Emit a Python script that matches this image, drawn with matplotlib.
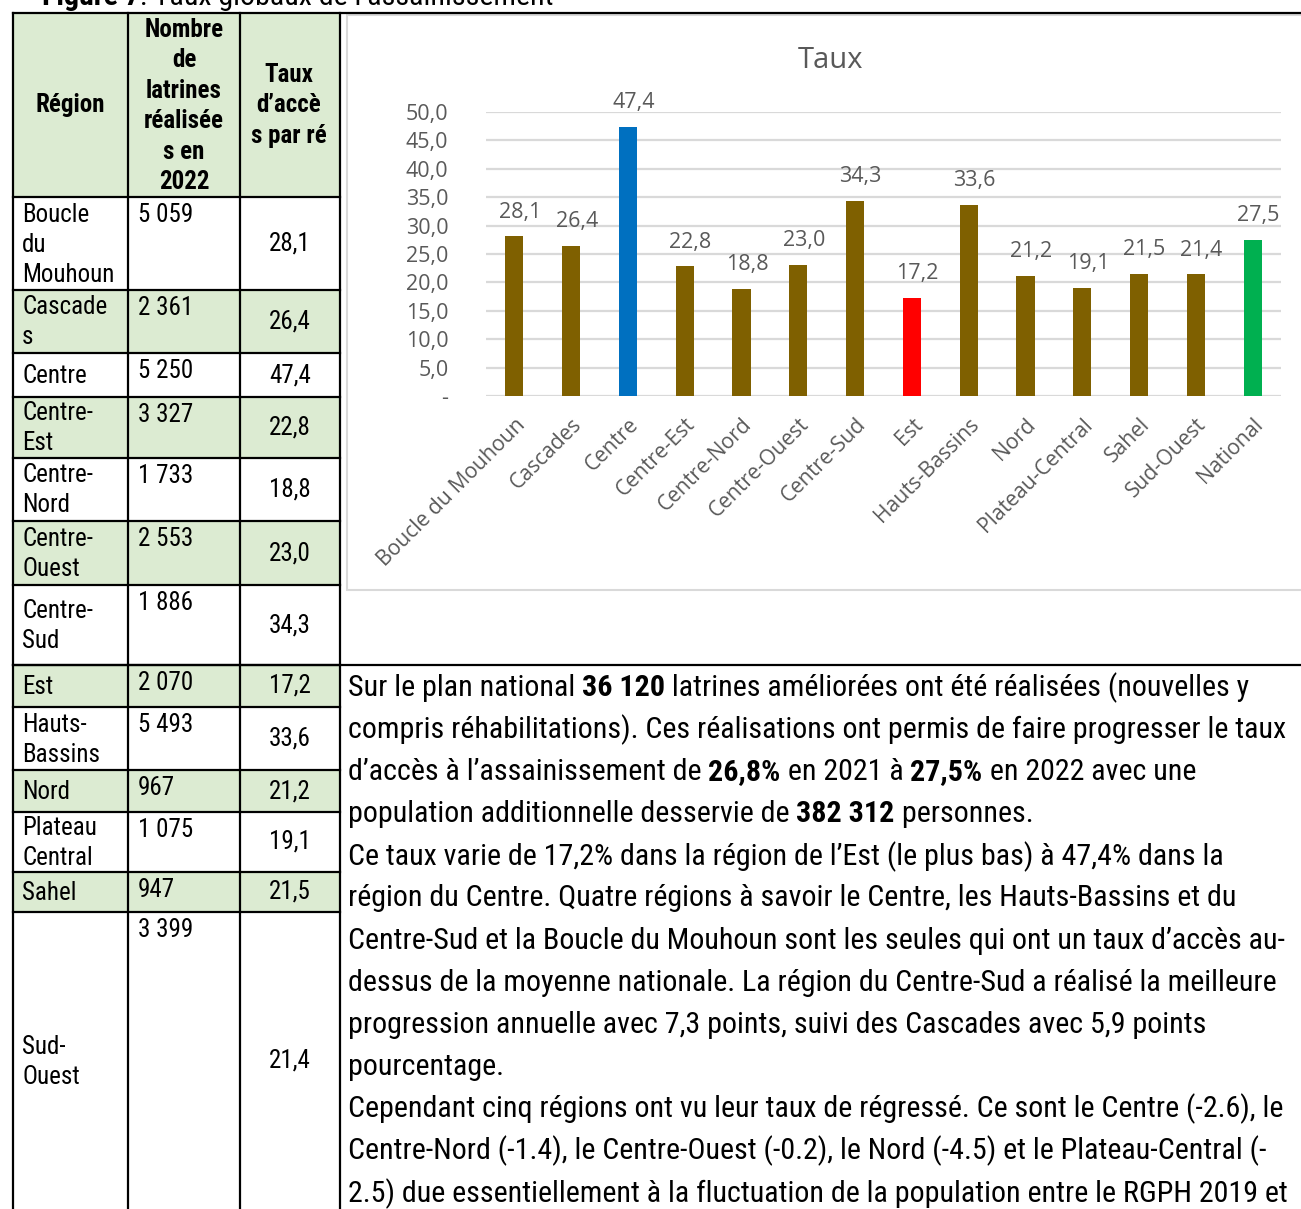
import matplotlib
matplotlib.use("Agg")
import matplotlib.pyplot as plt
from matplotlib import font_manager
from matplotlib.patches import Rectangle

# ---------------------------------------------------------
# Figure 7 : Taux globaux de l'assainissement (table + bar chart + text)
# ---------------------------------------------------------

# Table data
table_regions = ["Boucle\ndu\nMouhoun", "Cascade\ns", "Centre", "Centre-\nEst", "Centre-\nNord",
                 "Centre-\nOuest", "Centre-\nSud", "Est", "Hauts-\nBassins", "Nord",
                 "Plateau\nCentral", "Sahel", "Sud-\nOuest"]
latrines = ["5 059", "2 361", "5 250", "3 327", "1 733", "2 553", "1 886",
            "2 070", "5 493", "967", "1 075", "947", "3 399"]

# Chart data
categories = ["Boucle du Mouhoun", "Cascades", "Centre", "Centre-Est", "Centre-Nord",
              "Centre-Ouest", "Centre-Sud", "Est", "Hauts-Bassins", "Nord",
              "Plateau-Central", "Sahel", "Sud-Ouest", "National"]
taux = [28.1, 26.4, 47.4, 22.8, 18.8, 23.0, 34.3, 17.2, 33.6, 21.2, 19.1, 21.5, 21.4, 27.5]
bar_colors = ["#7F6000", "#7F6000", "#0070C0", "#7F6000", "#7F6000", "#7F6000", "#7F6000",
              "#FF0000", "#7F6000", "#7F6000", "#7F6000", "#7F6000", "#7F6000", "#00B050"]
y_ticks = [0, 5, 10, 15, 20, 25, 30, 35, 40, 45, 50]

# Paragraph text: list of lines, each a list of (text, bold)
paragraph = [
    [("Sur le plan national ", False), ("36 120", True),
     (" latrines améliorées ont été réalisées (nouvelles y", False)],
    [("compris réhabilitations). Ces réalisations ont permis de faire progresser le taux", False)],
    [("d’accès à l’assainissement de ", False), ("26,8%", True), (" en 2021 à ", False),
     ("27,5%", True), (" en 2022 avec une", False)],
    [("population additionnelle desservie de ", False), ("382 312", True), (" personnes.", False)],
    [("Ce taux varie de 17,2% dans la région de l’Est (le plus bas) à 47,4% dans la", False)],
    [("région du Centre. Quatre régions à savoir le Centre, les Hauts-Bassins et du", False)],
    [("Centre-Sud et la Boucle du Mouhoun sont les seules qui ont un taux d’accès au-", False)],
    [("dessus de la moyenne nationale. La région du Centre-Sud a réalisé la meilleure", False)],
    [("progression annuelle avec 7,3 points, suivi des Cascades avec 5,9 points", False)],
    [("pourcentage.", False)],
    [("Cependant cinq régions ont vu leur taux de régressé. Ce sont le Centre (-2.6), le", False)],
    [("Centre-Nord (-1.4), le Centre-Ouest (-0.2), le Nord (-4.5) et le Plateau-Central (-", False)],
    [("2.5) due essentiellement à la fluctuation de la population entre le RGPH 2019 et", False)],
]

installed = {}
for f in font_manager.fontManager.ttflist:
    w = f.weight if isinstance(f.weight, int) else (700 if "bold" in str(f.weight) else 400)
    installed.setdefault(f.name, set()).add(w)

narrow_candidates = ["Liberation Sans Narrow", "Arimo Narrow", "Roboto Condensed",
                     "Sofia Sans Condensed", "Asap Condensed", "Archivo Narrow",
                     "Saira SemiCondensed", "Liberation Sans"]
DOC_FONT = next(n for n in narrow_candidates + ["DejaVu Sans"] if n in installed or n == "DejaVu Sans")
BOLD_FONT = next((n for n in narrow_candidates if n in installed and max(installed[n]) >= 600),
                 DOC_FONT)
CHART_FONT = "Open Sans" if "Open Sans" in installed else "Lato"
GRAY = "#595959"
GREEN = "#DCEBD2"
W, H = 1301, 1209

fig = plt.figure(figsize=(W / 100, H / 100), dpi=100)
bg = fig.add_axes([0, 0, 1, 1])
bg.set_xlim(0, W)
bg.set_ylim(H, 0)
bg.axis("off")
fig.canvas.draw()
renderer = fig.canvas.get_renderer()


def fam(bold):
    return BOLD_FONT if bold else DOC_FONT


def seg_width(s, bold, size):
    t1 = bg.text(0, 0, s + "|", fontsize=size, family=fam(bold),
                 fontweight="bold" if bold else "normal")
    t2 = bg.text(0, 0, "|", fontsize=size, family=fam(bold),
                 fontweight="bold" if bold else "normal")
    w = t1.get_window_extent(renderer).width - t2.get_window_extent(renderer).width
    t1.remove()
    t2.remove()
    return w


# fit paragraph size so the longest reference line spans ~934 px
PFS = 10 * 934 / seg_width(paragraph[6][0][0], False, 10)
TFS = PFS * 10 / 12

# ---- table -------------------------------------------------
row_edges = [13, 197, 290, 353, 397, 458, 521, 585, 665, 707, 770, 812, 872, 912, 1260]
green_rows = [1, 3, 5, 7, 9, 11]
col_x = [13, 128, 240, 340]

bg.add_patch(Rectangle((13, 13), 327, 184, facecolor=GREEN, edgecolor="none"))
for i in green_rows:
    bg.add_patch(Rectangle((13, row_edges[i + 1]), 327, row_edges[i + 2] - row_edges[i + 1],
                           facecolor=GREEN, edgecolor="none"))

lw = 1.6
bg.plot([13, W], [13, 13], color="black", lw=lw)
bg.plot([13, W], [665, 665], color="black", lw=lw)
for y in row_edges[1:-1]:
    bg.plot([13, 340], [y, y], color="black", lw=lw)
for x in col_x:
    bg.plot([x, x], [13, H], color="black", lw=lw)


def multiline(x, yc, s, ha, bold=False, step=30, size=None):
    size = size or TFS
    lines = s.split("\n")
    n = len(lines)
    for k, ln in enumerate(lines):
        y = yc + (k - (n - 1) / 2) * step
        bg.text(x, y, ln, ha=ha, va="center", fontsize=size, family=fam(bold),
                fontweight="bold" if bold else "normal", color="black")


multiline(70, 105, "Région", "center", bold=True)
multiline(184, 106, "Nombre\nde\nlatrines\nréalisée\ns en\n2022", "center", bold=True, step=30.4)
multiline(289, 105, "Taux\nd’accè\ns par ré", "center", bold=True, step=30.5)

for i, (reg, nb, val) in enumerate(zip(table_regions, latrines, taux[:13])):
    top = row_edges[i + 1]
    bot = min(row_edges[i + 2], H)
    yc = (top + bot) / 2
    multiline(22, yc + 1, reg, "left")
    bg.text(138, top + 18, nb, ha="left", va="center", fontsize=TFS, family=DOC_FONT)
    bg.text(290, yc, f"{val:.1f}".replace(".", ","), ha="center", va="center",
            fontsize=TFS, family=DOC_FONT)

# ---- figure caption (cut at the top) -------------------------
bg.text(42, 5, "Figure 7", ha="left", va="baseline", fontsize=PFS, family=fam(True),
        fontweight="bold")
x_cap = 42 + seg_width("Figure 7", True, PFS)
bg.text(x_cap, 5, ": Taux globaux de l’assainissement", ha="left", va="baseline",
        fontsize=PFS, family=DOC_FONT)

# ---- paragraph -----------------------------------------------
for k, line in enumerate(paragraph):
    y = 688 + k * 42.1
    x = 348
    for s, b in line:
        bg.text(x, y, s, ha="left", va="center", fontsize=PFS, family=fam(b),
                fontweight="bold" if b else "normal", color="black")
        x += seg_width(s, b, PFS)

# ---- chart box -----------------------------------------------
bg.add_patch(Rectangle((347, 15), 970, 575, facecolor="white", edgecolor="#D9D9D9", lw=1.5))
bg.text(830, 60, "Taux", ha="center", va="center", fontsize=21, family=CHART_FONT, color=GRAY)

ax = fig.add_axes([486 / W, 1 - 396 / H, (1281 - 486) / W, (396 - 112) / H])
x = list(range(len(categories)))
ax.bar(x, taux, width=0.32, color=bar_colors, zorder=3)
ax.set_xlim(-0.5, len(categories) - 0.5)
ax.set_ylim(0, 50)
ax.set_yticks(y_ticks)
ax.set_yticklabels(["-"] + [f"{v:.1f}".replace(".", ",") for v in y_ticks[1:]])
ax.yaxis.grid(True, color="#D9D9D9", lw=1.6, zorder=0)
ax.set_axisbelow(True)
for sp in ax.spines.values():
    sp.set_visible(False)
ax.tick_params(axis="y", length=0, pad=27, labelsize=15.5, labelcolor=GRAY)
ax.tick_params(axis="x", length=0, pad=13)
ax.set_xticks(x)
ax.set_xticklabels(categories, rotation=45, ha="right", va="top", rotation_mode="anchor",
                   fontsize=15.2, color=GRAY, family=CHART_FONT)
for lab in ax.get_yticklabels():
    lab.set_family(CHART_FONT)
ax.patch.set_alpha(0)

for xi, v in zip(x, taux):
    ax.annotate(f"{v:.1f}".replace(".", ","), (xi, v), xytext=(4, 10), textcoords="offset points",
                ha="center", va="bottom", fontsize=15.5, color=GRAY, family=CHART_FONT)

fig.savefig("out.png", dpi=100)
